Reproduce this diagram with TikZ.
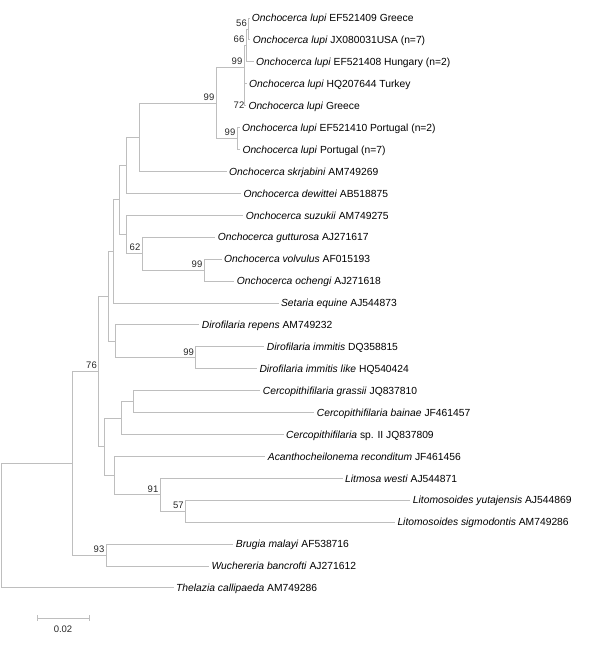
\documentclass[tikz,border=0pt]{standalone}
\usepackage{fontspec}
\setmainfont{Liberation Sans}
\definecolor{grisRama}{RGB}{190,190,190}
\definecolor{grisTexto}{RGB}{40,40,40}
\usepackage{tikz}
\usetikzlibrary{calc}

\begin{document}
\begin{tikzpicture}[
                x=1pt, y=-1pt,
                hoja/.style={anchor=west, inner xsep=2.3pt, inner ysep=0pt, text height=7.4pt, text depth=0pt, font=\fontsize{10.3}{12}\selectfont},
                rama/.style={grisRama, line width=0.9pt},
                boot/.style={anchor=south east, inner sep=1.5pt, yshift=1pt, text height=6.8pt, text depth=0pt, grisTexto, font=\fontsize{9.5}{11}\selectfont}
            ]
            \useasboundingbox (0,0) rectangle (600,656);

            % Leaves
            \node[hoja] (l1) at (249.4,18) {\textit{Onchocerca lupi} EF521409 Greece};
            \node[hoja] (l2) at (250.4,39.9) {\textit{Onchocerca lupi} JX080031USA (n=7)};
            \node[hoja] (l3) at (253.7,61.8) {\textit{Onchocerca lupi} EF521408 Hungary (n=2)};
            \node[hoja] (l4) at (246.7,83.8) {\textit{Onchocerca lupi} HQ207644 Turkey};
            \node[hoja] (l5) at (246,105.7) {\textit{Onchocerca lupi} Greece};
            \node[hoja] (l6) at (239.7,127.6) {\textit{Onchocerca lupi} EF521410 Portugal (n=2)};
            \node[hoja] (l7) at (240,149.5) {\textit{Onchocerca lupi} Portugal (n=7)};
            \node[hoja] (l8) at (226.7,171.4) {\textit{Onchocerca skrjabini} AM749269};
            \node[hoja] (l9) at (241,193.4) {\textit{Onchocerca dewittei} AB518875};
            \node[hoja] (l10) at (243.4,215.3) {\textit{Onchocerca suzukii} AM749275};
            \node[hoja] (l11) at (215.4,237.2) {\textit{Onchocerca gutturosa} AJ271617};
            \node[hoja] (l12) at (221.7,259.1) {\textit{Onchocerca volvulus} AF015193};
            \node[hoja] (l13) at (234.4,281) {\textit{Onchocerca ochengi} AJ271618};
            \node[hoja] (l14) at (278.6,303) {\textit{Setaria equine} AJ544873};
            \node[hoja] (l15) at (199.4,324.9) {\textit{Dirofilaria repens} AM749232};
            \node[hoja] (l16) at (264.4,346.8) {\textit{Dirofilaria immitis} DQ358815};
            \node[hoja] (l17) at (257,368.7) {\textit{Dirofilaria immitis like} HQ540424};
            \node[hoja] (l18) at (260.4,390.6) {\textit{Cercopithifilaria grassii} JQ837810};
            \node[hoja] (l19) at (314.4,412.6) {\textit{Cercopithifilaria bainae} JF461457};
            \node[hoja] (l20) at (283.7,434.5) {\textit{Cercopithifilaria} sp. II JQ837809};
            \node[hoja] (l21) at (265.4,456.4) {\textit{Acanthocheilonema reconditum} JF461456};
            \node[hoja] (l22) at (342.7,478.3) {\textit{Litmosa westi} AJ544871};
            \node[hoja] (l23) at (410.4,500.2) {\textit{Litomosoides yutajensis} AJ544869};
            \node[hoja] (l24) at (395,522.2) {\textit{Litomosoides sigmodontis} AM749286};
            \node[hoja] (l25) at (233.4,544.1) {\textit{Brugia malayi} AF538716};
            \node[hoja] (l26) at (209,566) {\textit{Wuchereria bancrofti} AJ271612};
            \node[hoja] (l27) at (173.7,587.9) {\textit{Thelazia callipaeda} AM749286};

            % Internal nodes
            \coordinate (nGJ) at (248.5,29);
            \coordinate (nHu) at (246,45.4);
            \coordinate (nLa) at (244,67.3);
            \coordinate (nPo) at (237,138.6);
            \coordinate (nLu) at (216,103);
            \coordinate (nSk) at (139.3,137.2);
            \coordinate (nDe) at (126.7,165.3);
            \coordinate (nVo) at (204,270.1);
            \coordinate (nGu) at (142,253.6);
            \coordinate (nSu) at (126.7,234.5);
            \coordinate (nOn) at (119,199.9);
            \coordinate (nSe) at (113.3,251.5);
            \coordinate (nIm) at (195.7,357.8);
            \coordinate (nDi) at (115,341.3);
            \coordinate (nFi) at (108.3,296.4);
            \coordinate (nGb) at (133.3,401.6);
            \coordinate (nCe) at (121.7,418.1);
            \coordinate (nLs) at (185.3,511.2);
            \coordinate (nLw) at (160,494.8);
            \coordinate (nAc) at (114.3,475.6);
            \coordinate (nLo) at (104.3,446.9);
            \coordinate (n76) at (98.5,371.6);
            \coordinate (nBw) at (106,555.1);
            \coordinate (nIn) at (72.3,463.4);
            \coordinate (raiz) at (1.7,525.6);

            % Branches
            \draw[rama] (nGJ) |- (l1.west) (nGJ) |- (l2.west);
            \draw[rama] (nHu) |- (nGJ) (nHu) |- (l3.west);
            \draw[rama] (nLa) |- (nHu) (nLa) |- (l4.west) (nLa) |- (l5.west);
            \draw[rama] (nPo) |- (l6.west) (nPo) |- (l7.west);
            \draw[rama] (nLu) |- (nLa) (nLu) |- (nPo);
            \draw[rama] (nSk) |- (nLu) (nSk) |- (l8.west);
            \draw[rama] (nDe) |- (nSk) (nDe) |- (l9.west);
            \draw[rama] (nVo) |- (l12.west) (nVo) |- (l13.west);
            \draw[rama] (nGu) |- (l11.west) (nGu) |- (nVo);
            \draw[rama] (nSu) |- (l10.west) (nSu) |- (nGu);
            \draw[rama] (nOn) |- (nDe) (nOn) |- (nSu);
            \draw[rama] (nSe) |- (nOn) (nSe) |- (l14.west);
            \draw[rama] (nIm) |- (l16.west) (nIm) |- (l17.west);
            \draw[rama] (nDi) |- (l15.west) (nDi) |- (nIm);
            \draw[rama] (nFi) |- (nSe) (nFi) |- (nDi);
            \draw[rama] (nGb) |- (l18.west) (nGb) |- (l19.west);
            \draw[rama] (nCe) |- (nGb) (nCe) |- (l20.west);
            \draw[rama] (nLs) |- (l23.west) (nLs) |- (l24.west);
            \draw[rama] (nLw) |- (l22.west) (nLw) |- (nLs);
            \draw[rama] (nAc) |- (l21.west) (nAc) |- (nLw);
            \draw[rama] (nLo) |- (nCe) (nLo) |- (nAc);
            \draw[rama] (n76) |- (nFi) (n76) |- (nLo);
            \draw[rama] (nBw) |- (l25.west) (nBw) |- (l26.west);
            \draw[rama] (nIn) |- (n76) (nIn) |- (nBw);
            \draw[rama] (raiz) |- (nIn) (raiz) |- (l27.west);

            % Bootstrap values
            \node[boot] (b56) at (nGJ) {56};
            \node[boot] (b66) at (nHu) {66};
            \node[boot] (b99a) at (nLa) {99};
            \node[boot, anchor=east, yshift=0pt] (b72) at (l5.west) {72};
            \node[boot] (b99b) at (nPo) {99};
            \node[boot] (b99c) at (nLu) {99};
            \node[boot] (b62) at (nGu) {62};
            \node[boot] (b99d) at (nVo) {99};
            \node[boot] (b99e) at (nIm) {99};
            \node[boot] (b91) at (nLw) {91};
            \node[boot] (b57) at (nLs) {57};
            \node[boot] (b76) at (n76) {76};
            \node[boot] (b93) at (nBw) {93};

            % Scale bar
            \coordinate (sb1) at (37,618);
            \coordinate (sb2) at (89,618);
            \draw[rama] (sb1) -- (sb2);
            \draw[rama] ([yshift=3pt]sb1) -- ([yshift=-3pt]sb1);
            \draw[rama] ([yshift=3pt]sb2) -- ([yshift=-3pt]sb2);
            \node[boot, anchor=north, yshift=-7pt] (sbl) at ($(sb1)!0.5!(sb2)$) {0.02};
        \end{tikzpicture}
\end{document}
